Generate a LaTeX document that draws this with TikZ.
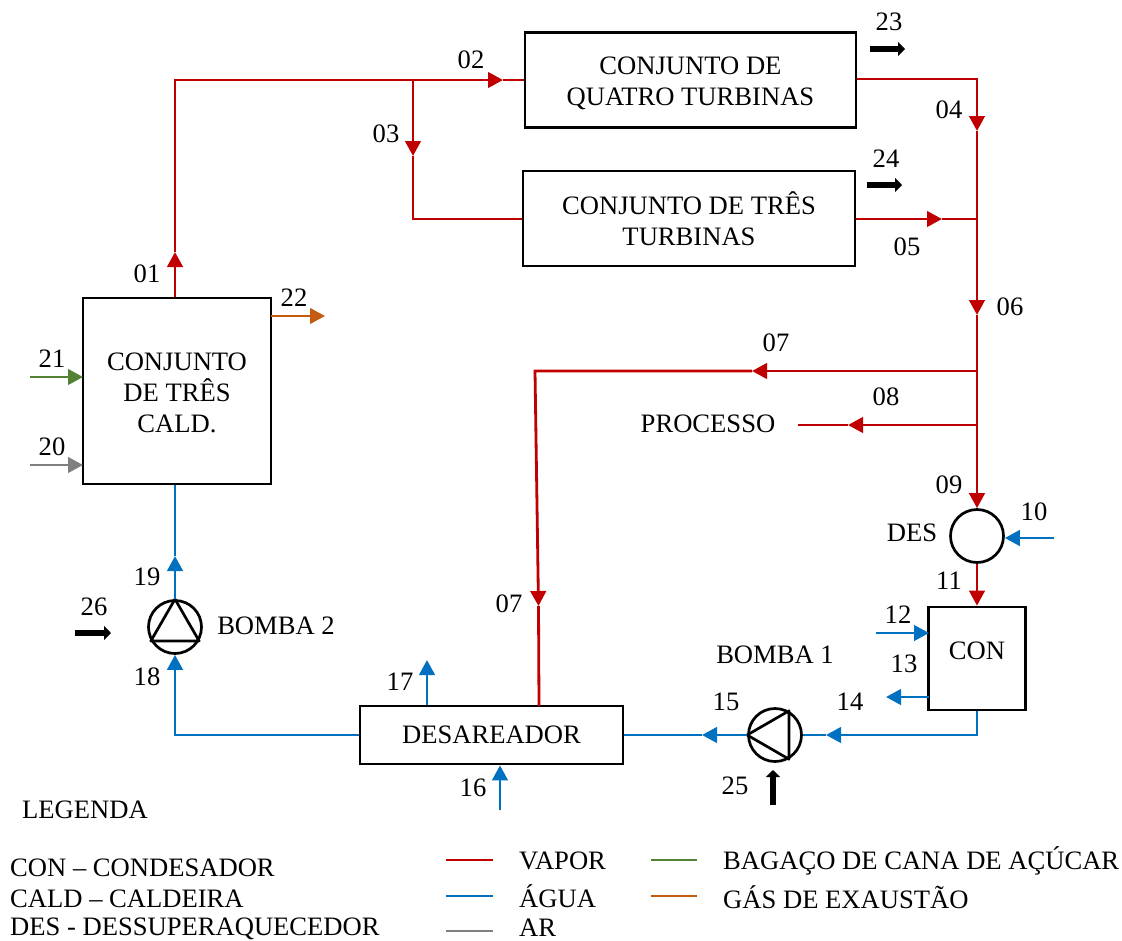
\documentclass[tikz,border=0pt]{standalone}
\usepackage{fontspec}
\setmainfont{Liberation Serif}
\usetikzlibrary{arrows.meta}
\definecolor{corvapor}{HTML}{C00000}
\definecolor{coragua}{HTML}{0070C0}
\definecolor{corar}{HTML}{7F7F7F}
\definecolor{corbagaco}{HTML}{548235}
\definecolor{corgas}{HTML}{C55A11}
\tikzset{
  every node/.style={font=\fontsize{26.6}{31}\selectfont},
  equip/.style={draw=black,line width=2.7pt,rectangle,inner sep=0pt,align=center},
  roda/.style={draw=black,line width=2.7pt,circle,inner sep=0pt,minimum size=53pt},
  corrente/.style={line width=2.8pt,line join=miter,>={Triangle[length=15pt,width=15.5pt]}},
  vapor/.style={corrente,color=corvapor},
  agua/.style={corrente,color=coragua},
  ar/.style={corrente,color=corar},
  bagaco/.style={corrente,color=corbagaco},
  gas/.style={corrente,color=corgas},
  potencia/.style={line width=6.5pt,color=black,>={Triangle[length=7pt,width=14pt]}},
}
\begin{document}
\begin{tikzpicture}[x=1pt,y=-1pt]
\useasboundingbox (0,0) rectangle (1122,940);
% equipamentos
\node (turb4) [equip,minimum width=331pt,minimum height=95pt] at (690.5,80) {};
\node (turb4txt) [align=center] at (690.5,83) {CONJUNTO DE\\QUATRO TURBINAS};
\node (turb3) [equip,minimum width=332pt,minimum height=95pt] at (689,218.5) {CONJUNTO DE TRÊS\\TURBINAS};
\node (cald) [equip,minimum width=188pt,minimum height=186pt] at (177,391) {};
\node (caldtxt) [align=center] at (177,393) {CONJUNTO\\DE TRÊS\\CALD.};
\node (desar) [equip,minimum width=263pt,minimum height=58pt] at (491.5,735) {DESAREADOR};
\node (con) [equip,minimum width=97pt,minimum height=103pt] at (977,658.5) {};
\node (contxt) at (977,651) {CON};
\node (des) [roda] at (977,536) {};
\node (bomba2) [roda] at (175,627) {};
\node (bomba1) [roda] at (775,735) {};
\draw[line width=2.7pt,line join=round] (bomba2.90) -- (bomba2.210) -- (bomba2.330) -- cycle;
\draw[line width=2.7pt,line join=round] (bomba1.180) -- (bomba1.60) -- (bomba1.300) -- cycle;
%
\foreach \nome/\x/\y in {a/175/80,b/413/80,c/977/79,d/977/219,e/977/371,f/977/425,g/535/371,
  t01/175/252,t02/503/80,t03/413/156,t04/977/131,t05/942/219,t06/977/315,t07/752/371,t07b/538.5/606,
  t08/848/425,t14/826/735,t15/702/735,t19/175/556,
  h/413/219,i/798/425,k/977/735,m/175/735,v07/539/706,
  p10/1054/538,p12/876/633,p12b/929/633,p13/886/697,p13b/929/697,p16/500/810,p17/427/660,
  p20/30/465,p20b/83/465,p21/30/377,p21b/83/377,p22/325/316,p22b/271/316,
  q23/870/49,r23/905/49,q24/867/185,r24/902/185,q26/75/633,r26/111/633,q25/773/805,r25/773/770,
  l1/446/860,l2/493/860,l3/446/896,l4/493/896,l5/446/931,l6/493/931,l7/651/860,l8/697/860,l9/651/896,l10/697/896}
  \coordinate (\nome) at (\x,\y);
% vapor
\path[vapor,->] (cald.north -| a) edge (t01);
\draw[vapor] (t01) -- (a) -- (b);
\path[vapor,->] (b) edge (t02);
\path[vapor] (t02) edge (turb4.west);
\path[vapor,->] (b) edge (t03);
\draw[vapor] (t03) -- (h) -- (h -| turb3.west);
\draw[vapor,->] (turb4.east |- c) -- (c) -- (t04);
\path[vapor,->] (turb3.east |- d) edge (t05);
\path[vapor] (t05) edge (d);
\path[vapor] (t04) edge (d);
\path[vapor,->] (d) edge (t06);
\path[vapor] (t06) edge (f);
\path[vapor,->] (e) edge (t07);
\draw[vapor,->] (t07) -- (g) -- (t07b);
\path[vapor] (t07b) edge (v07);
\path[vapor,->] (f) edge (des.north);
\path[vapor,->] (f) edge (t08);
\path[vapor] (t08) edge (i);
\path[vapor,->] (des.south) edge (con.north);
% agua
\path[agua,->] (p10) edge (des.east |- p10);
\path[agua,->] (p12) edge (p12b);
\path[agua,->] (p13b) edge (p13);
\draw[agua,->] (con.south) -- (k) -- (t14);
\path[agua] (t14) edge (bomba1.east);
\path[agua,->] (bomba1.west) edge (t15);
\path[agua] (t15) edge (desar.east);
\path[agua,->] (p16) edge (desar.south -| p16);
\path[agua,->] (desar.north -| p17) edge (p17);
\draw[agua,->] (desar.west) -- (m) -- (bomba2.south);
\path[agua,->] (bomba2.north) edge (t19);
\path[agua] (t19) edge (cald.south -| t19);
% demais correntes
\path[ar,->] (p20) edge (p20b);
\path[bagaco,->] (p21) edge (p21b);
\path[gas,->] (p22b) edge (p22);
\path[potencia,->] (q23) edge (r23);
\path[potencia,->] (q24) edge (r24);
\path[potencia,->] (q26) edge (r26);
\path[potencia,->] (q25) edge (r25);
% numeros
\foreach \num/\txt/\x/\y in {n01/01/147/274,n02/02/471/60,n03/03/386/134,n04/04/949/110,n05/05/907/247,
  n06/06/1010/307,n07/07/776/343,n07b/07/509/604,n08/08/886/397,n09/09/949/485,n10/10/1034/512,
  n11/11/949/581,n12/12/898/615,n13/13/904/664,n14/14/850/702,n15/15/726/702,n16/16/473/788,
  n17/17/400/682,n18/18/147/677,n19/19/147/577,n20/20/52/447,n21/21/52/359,n22/22/294/298,
  n23/23/889/22,n24/24/886/159,n25/25/735/786,n26/26/94/607}
  \node (\num) at (\x,\y) {\txt};
\node (tdes) at (912,533) {DES};
\node (tb2) at (276,626) {BOMBA 2};
\node (tb1) at (775,655) {BOMBA 1};
\node (proc) at (708,424) {PROCESSO};
% legenda
\path[vapor] (l1) edge (l2);
\path[agua] (l3) edge (l4);
\path[ar] (l5) edge (l6);
\path[bagaco] (l7) edge (l8);
\path[gas] (l9) edge (l10);
\foreach \nome/\txt/\x/\y in {leg/LEGENDA/22/810,lcon/CON – CONDESADOR/10/868,lcald/CALD – CALDEIRA/10/899,
  ldes/DES - DESSUPERAQUECEDOR/10/928.5,lvap/VAPOR/519/861,lagua/ÁGUA/519/896,lar/AR/519/928,
  lbag/BAGAÇO DE CANA DE AÇÚCAR/723/861,lgas/GÁS DE EXAUSTÃO/723/897}
  \node (\nome) [anchor=west,inner sep=0pt] at (\x,\y) {\txt};
\end{tikzpicture}
\end{document}
